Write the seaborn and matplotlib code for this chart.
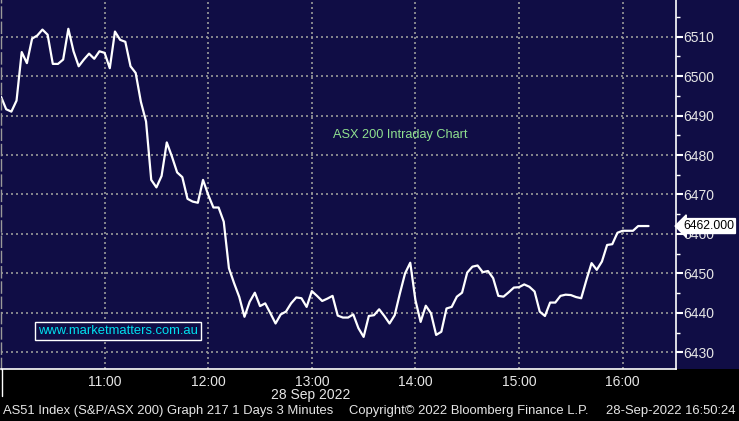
import pandas as pd
import matplotlib.pyplot as plt
import matplotlib.dates as mdates
from matplotlib.patches import Rectangle
from matplotlib.lines import Line2D
from matplotlib.ticker import MultipleLocator
import seaborn as sns

# ---------------------------------------
# Data (ASX 200, 3 minute bars, 28 Sep 2022)
# ---------------------------------------

start = "2022-09-28 10:00"

prices = [
    6494.8, 6491.6, 6491.0, 6493.8, 6506.1, 6503.3, 6509.5, 6510.3, 6511.8, 6510.5,
    6503.1, 6503.1, 6504.2, 6512.0, 6506.3, 6502.5, 6504.2, 6505.7, 6504.4, 6506.3,
    6505.9, 6502.0, 6511.3, 6509.2, 6508.7, 6502.5, 6500.8, 6493.5, 6488.5, 6473.7,
    6471.8, 6474.7, 6483.2, 6479.6, 6475.6, 6474.4, 6468.9, 6468.2, 6467.9, 6473.7,
    6469.9, 6466.7, 6466.7, 6463.1, 6451.3, 6447.5, 6444.0, 6439.0, 6442.8, 6445.1,
    6441.7, 6442.4, 6439.9, 6437.3, 6439.6, 6440.3, 6442.4, 6443.9, 6443.7, 6441.5,
    6445.5, 6444.3, 6443.0, 6443.6, 6444.3, 6439.3, 6438.8, 6438.8, 6439.6, 6436.1,
    6433.9, 6439.2, 6439.4, 6440.9, 6439.2, 6437.3, 6439.4, 6444.9, 6450.0, 6452.7,
    6443.2, 6437.7, 6441.8, 6439.9, 6434.4, 6435.2, 6441.1, 6441.5, 6444.1, 6445.1,
    6450.2, 6451.7, 6452.0, 6450.3, 6450.6, 6448.8, 6444.3, 6444.1, 6445.2, 6446.4,
    6446.5, 6447.2, 6446.6, 6445.4, 6440.3, 6439.2, 6442.6, 6442.6, 6444.3, 6444.6,
    6444.5, 6444.0, 6443.7, 6448.3, 6452.6, 6450.9, 6453.0, 6457.2, 6457.4, 6460.3,
    6460.8, 6460.8, 6460.8, 6462.0, 6462.0, 6462.0,
]

last_price = 6462.000
chart_title = "ASX 200 Intraday Chart"
watermark = "www.marketmatters.com.au"
date_label = "28 Sep 2022"
footer_left = "AS51 Index (S&P/ASX 200) Graph 217 1 Days 3 Minutes"
footer_mid = "Copyright\u00a9 2022 Bloomberg Finance L.P."
footer_right = "28-Sep-2022 16:50:24"

df = pd.DataFrame({
    "time": pd.date_range(start, periods=len(prices), freq="3min"),
    "price": prices,
})

# ---------------------------------------
# Style
# ---------------------------------------

NAVY = "#100d45"
GRID = "#9a9a9a"
TXT = "#e6e6e6"

sns.set_style("dark")
plt.rcParams["font.family"] = ["Liberation Sans", "DejaVu Sans"]

fig = plt.figure(figsize=(7.39, 4.21), dpi=100, facecolor="black")

# navy band behind the plot, black strip at the bottom
fig.patches.append(Rectangle((0, 52 / 421), 1, 1, transform=fig.transFigure,
                             facecolor=NAVY, edgecolor="none", zorder=-10))

ax = fig.add_axes([1 / 739, 52 / 421, 675 / 739, 369 / 421])
ax.set_facecolor(NAVY)

sns.lineplot(data=df, x="time", y="price", ax=ax, color="white", linewidth=1.6)

# ---------------------------------------
# Axes
# ---------------------------------------

t0 = pd.Timestamp(start)
ax.set_xlim(t0, t0 + pd.Timedelta(minutes=390.9))
ax.set_ylim(6425.76, 6519.3)

ax.xaxis.set_major_locator(mdates.HourLocator(byhour=range(11, 17)))
ax.xaxis.set_major_formatter(mdates.DateFormatter("%H:%M"))
ax.xaxis.set_minor_locator(mdates.MinuteLocator(byminute=[30]))
ax.yaxis.set_major_locator(MultipleLocator(10))
ax.yaxis.set_minor_locator(MultipleLocator(5))

ax.yaxis.tick_right()
ax.tick_params(axis="x", which="major", length=0, pad=4, colors=TXT, labelsize=10)
ax.tick_params(axis="x", which="minor", length=4, width=1, color="white", direction="out")
ax.tick_params(axis="y", which="major", length=5, width=1.5, color="white",
               direction="out", pad=0, labelcolor=TXT, labelsize=10)
ax.tick_params(axis="y", which="minor", length=3, width=1, color="white", direction="out")

ax.set_xlabel("")
ax.set_ylabel("")

ax.grid(True, which="major", color=GRID, linestyle=(0, (1.2, 1.8)), linewidth=1.2)

ax.spines["top"].set_visible(False)
ax.spines["right"].set_color("white")
ax.spines["right"].set_linewidth(1.2)
ax.spines["bottom"].set_color("white")
ax.spines["bottom"].set_linewidth(1.2)
ax.spines["left"].set_color(GRID)
ax.spines["left"].set_linestyle((0, (8, 3)))
ax.spines["left"].set_linewidth(1)

# ---------------------------------------
# Annotations
# ---------------------------------------

ax.text(0.592, 0.635, chart_title, transform=ax.transAxes, color="#8fe08f",
        fontsize=9.2, ha="center", va="center")

ax.text(0.173, 0.102, watermark, transform=ax.transAxes, color="#00e0ee",
        fontsize=9.4, ha="center", va="center",
        bbox=dict(boxstyle="square,pad=0.22", facecolor=NAVY, edgecolor="white", linewidth=1))

ax.annotate(f"{last_price:.3f}", xy=(1.0, last_price),
            xycoords=("axes fraction", "data"), xytext=(5, 0), textcoords="offset points",
            ha="left", va="center", fontsize=8.8, color="black", annotation_clip=False,
            bbox=dict(boxstyle="larrow,pad=0.12", facecolor="white", edgecolor="white"))

fig.text(311 / 739, 1 - 395 / 421, date_label, color=TXT, fontsize=10,
         ha="center", va="center")

fig.text(3 / 739, 1 - 411 / 421, footer_left, color=TXT, fontsize=9.4, ha="left", va="center")
fig.text(349 / 739, 1 - 411 / 421, footer_mid, color=TXT, fontsize=9.4, ha="left", va="center")
fig.text(736 / 739, 1 - 411 / 421, footer_right, color=TXT, fontsize=9.4, ha="right", va="center")

fig.lines.append(Line2D([1.5 / 739, 1.5 / 739], [1 - 369 / 421, 1 - 396 / 421],
                        transform=fig.transFigure, color="white", linewidth=1))

fig.savefig("out.png", dpi=100, facecolor="black")
plt.close()
